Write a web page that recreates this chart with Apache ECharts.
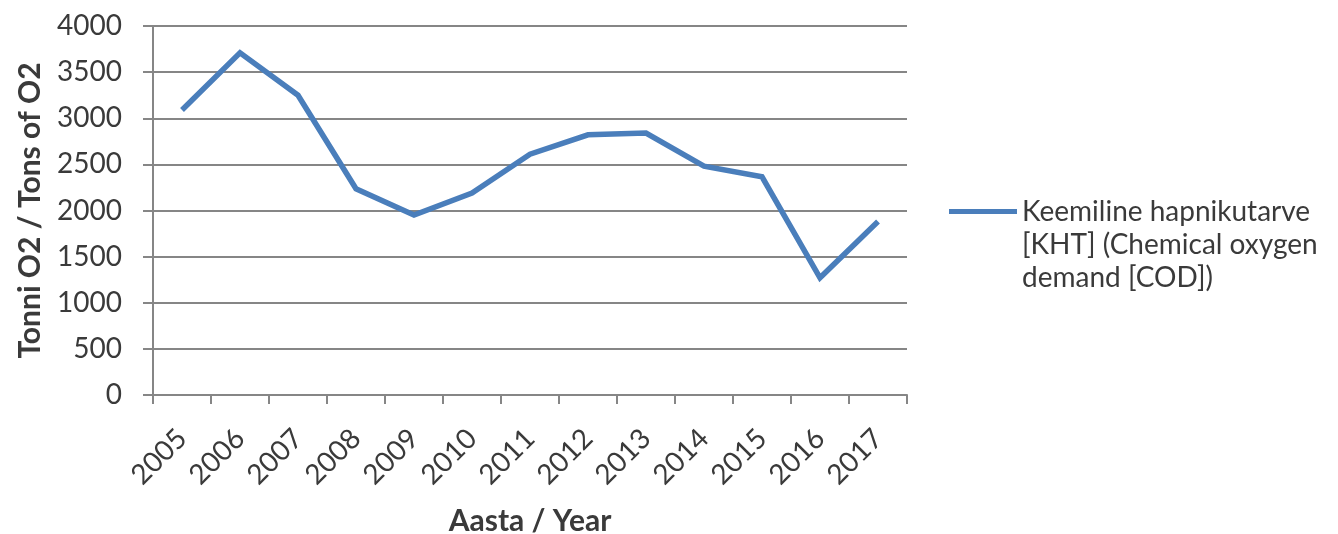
<!DOCTYPE html>
<html>
<head>
<meta charset="utf-8">
<script src="https://cdn.jsdelivr.net/npm/echarts@6/dist/echarts.min.js"></script>
<style>
html,body{margin:0;padding:0;background:#fff;}
#chart{width:1338px;height:534px;}
</style>
</head>
<body>
<div id="chart"></div>
<script>
const years = ['2005','2006','2007','2008','2009','2010','2011','2012','2013','2014','2015','2016','2017'];
const codValues = [3090, 3710, 3250, 2235, 1950, 2190, 2610, 2820, 2840, 2480, 2365, 1270, 1880];
const seriesName = 'Keemiline hapnikutarve\n[KHT] (Chemical oxygen\ndemand [COD])';
const yAxisName = 'Tonni O2 / Tons of O2';
const xAxisName = 'Aasta / Year';

const font = 'Lato';
const axisGray = '#868686';
const textColor = '#3a3a3a';

const chart = echarts.init(document.getElementById('chart'));
chart.setOption({
  animation: false,
  backgroundColor: '#ffffff',
  grid: { left: 153, right: 431, top: 26, bottom: 139, containLabel: false, outerBoundsMode: 'none' },
  legend: {
    show: true,
    left: 949,
    top: 129,
    padding: 0,
    itemWidth: 68,
    itemHeight: 5,
    itemGap: 0,
    icon: 'rect',
    data: [seriesName],
    formatter: function (name) { return '\n\n' + name; },
    textStyle: {
      fontFamily: font,
      fontSize: 28,
      color: textColor,
      lineHeight: 33
    }
  },
  xAxis: {
    type: 'category',
    data: years,
    boundaryGap: true,
    name: xAxisName,
    nameLocation: 'middle',
    nameGap: 111,
    nameTextStyle: { fontFamily: font, fontSize: 30, fontWeight: 'bold', color: textColor },
    axisLine: { show: true, lineStyle: { color: axisGray, width: 2 } },
    axisTick: { show: true, alignWithLabel: false, length: 9, lineStyle: { color: axisGray, width: 2 } },
    axisLabel: {
      interval: 0,
      rotate: 45,
      margin: 39,
      fontFamily: font,
      fontSize: 28,
      color: textColor
    },
    splitLine: { show: false }
  },
  yAxis: {
    type: 'value',
    min: 0,
    max: 4000,
    interval: 500,
    name: yAxisName,
    nameLocation: 'middle',
    nameGap: 108,
    nameRotate: 90,
    nameTextStyle: { fontFamily: font, fontSize: 30, fontWeight: 'bold', color: textColor },
    axisLine: { show: true, lineStyle: { color: axisGray, width: 2 } },
    axisTick: { show: true, length: 10, lineStyle: { color: axisGray, width: 2 } },
    axisLabel: {
      margin: 31,
      fontFamily: font,
      fontSize: 28,
      color: textColor,
      formatter: function (v) { return String(v); }
    },
    splitLine: { show: true, lineStyle: { color: axisGray, width: 2 } }
  },
  series: [{
    name: seriesName,
    type: 'line',
    data: codValues,
    symbol: 'none',
    smooth: false,
    lineStyle: { color: '#4A7EBB', width: 5.5, join: 'miter' },
    itemStyle: { color: '#4A7EBB' }
  }]
});
</script>
</body>
</html>
